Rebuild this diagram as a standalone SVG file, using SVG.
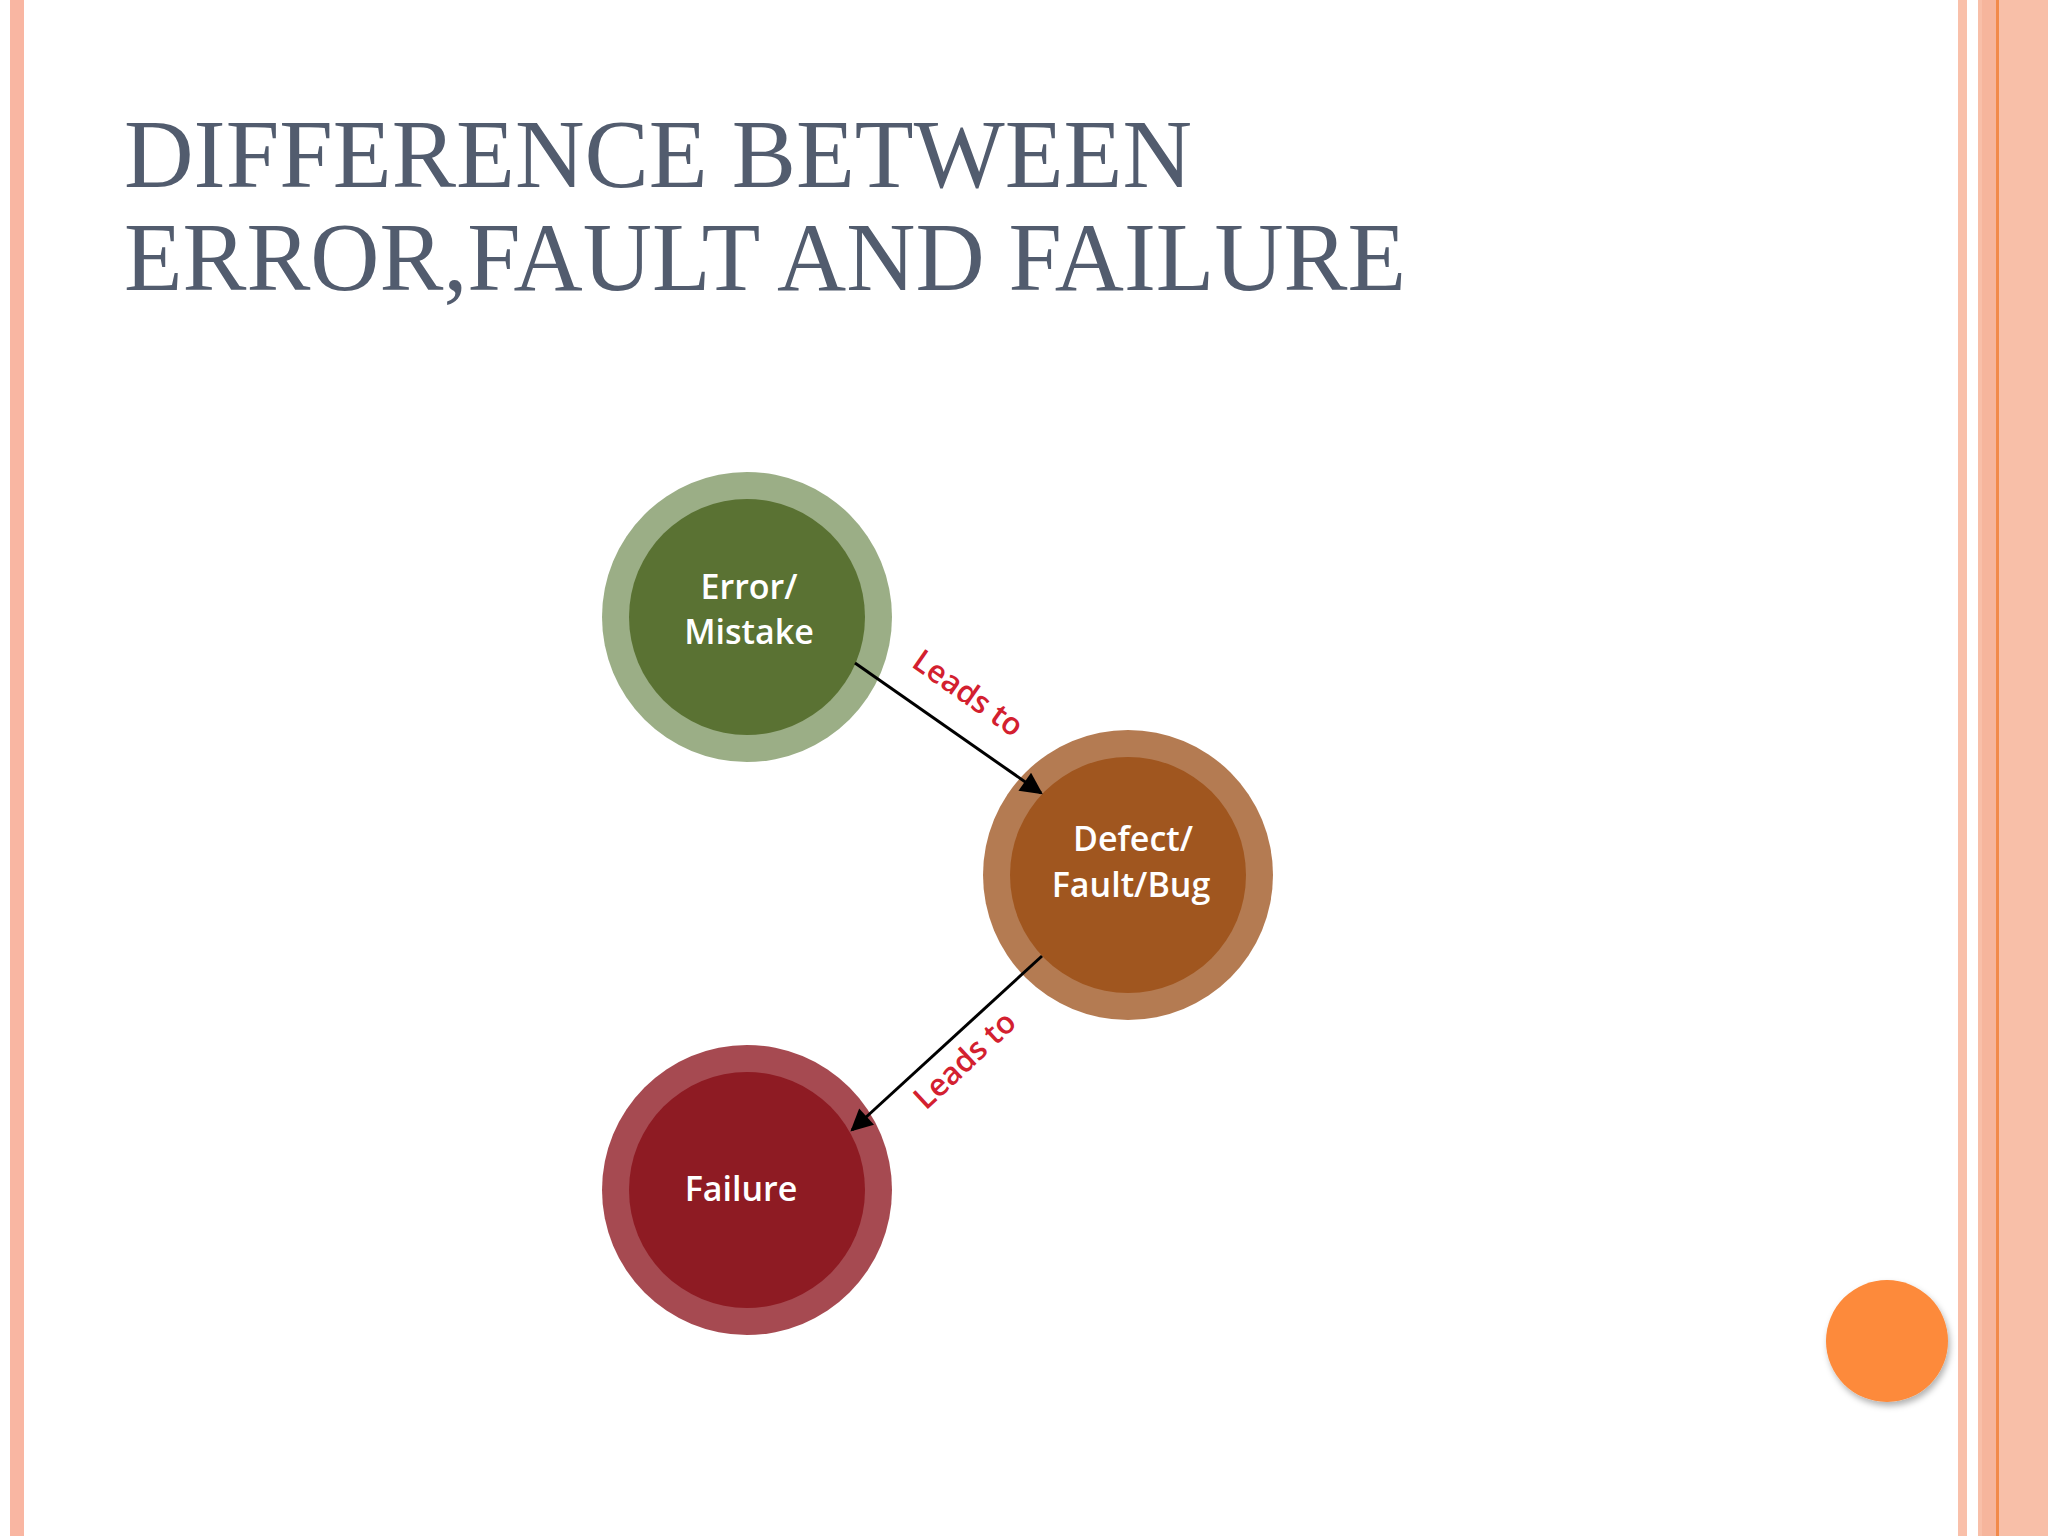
<svg xmlns="http://www.w3.org/2000/svg" width="2048" height="1536" viewBox="0 0 2048 1536">
<defs>
<marker id="ah" viewBox="0 0 10 10" refX="9" refY="5" markerWidth="26" markerHeight="22" markerUnits="userSpaceOnUse" orient="auto"><path d="M0,0 L10,5 L0,10 z" fill="#000"/></marker>
<filter id="sh" x="-30%" y="-30%" width="160%" height="160%"><feDropShadow dx="2" dy="4" stdDeviation="3" flood-color="#000" flood-opacity="0.3"/></filter>
</defs>
<style>
.t{font-family:"Liberation Serif",serif;font-size:97px;fill:#525c6e}
.n{font-family:"Open Sans",sans-serif;font-weight:600;font-size:34px;fill:#fff;text-anchor:middle}
.l{font-family:"Open Sans",sans-serif;font-weight:600;font-size:31px;fill:#d3202f;text-anchor:middle}
.c{stroke:#000;stroke-width:3;fill:none}
</style>
<rect width="2048" height="1536" fill="#fff"/>
<rect x="10" y="0" width="14" height="1536" fill="#f9b6a2"/>
<rect x="1958" y="0" width="9" height="1536" fill="#f9c0aa"/>
<rect x="1978" y="0" width="70" height="1536" fill="#f8bfa8"/>
<rect x="1982" y="0" width="14" height="1536" fill="#f6b59c"/>
<rect x="1996" y="0" width="3" height="1536" fill="#f28a4a"/>
<text class="t" x="124" y="187" textLength="1068" lengthAdjust="spacingAndGlyphs">DIFFERENCE BETWEEN</text>
<text class="t" x="124" y="290" textLength="1282" lengthAdjust="spacingAndGlyphs">ERROR,FAULT AND FAILURE</text>
<g id="error"><circle cx="747" cy="617" r="145" fill="#9bae86"/><circle cx="747" cy="617" r="118" fill="#5a7233"/>
<text class="n" x="749" y="599">Error/</text><text class="n" x="749" y="644">Mistake</text></g>
<g id="defect"><circle cx="1128" cy="875" r="145" fill="#b47b52"/><circle cx="1128" cy="875" r="118" fill="#a0561f"/>
<text class="n" x="1133" y="851">Defect/</text><text class="n" x="1131" y="897">Fault/Bug</text></g>
<g id="failure"><circle cx="747" cy="1190" r="145" fill="#a64a51"/><circle cx="747" cy="1190" r="118" fill="#8e1b23"/>
<text class="n" x="741" y="1201">Failure</text></g>
<g id="connectors">
<line class="c" x1="855" y1="663" x2="1041" y2="793" marker-end="url(#ah)"/>
<line class="c" x1="1042" y1="956" x2="852" y2="1130" marker-end="url(#ah)"/>
<text class="l" transform="translate(962,702) rotate(35)">Leads to</text>
<text class="l" transform="translate(972,1068) rotate(-43)">Leads to</text>
</g>
<circle cx="1887" cy="1341" r="61" fill="#fd8a3a" filter="url(#sh)"/>
</svg>
